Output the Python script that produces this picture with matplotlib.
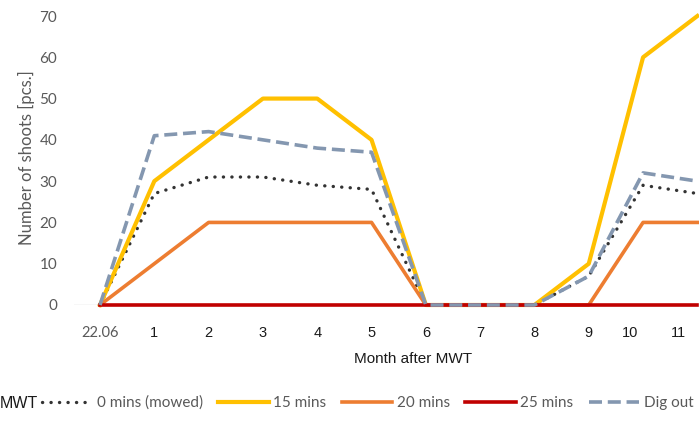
"""Shoot counts per month after MWT — line chart"""

import matplotlib
matplotlib.use("Agg")
import matplotlib.pyplot as plt

# ── Data ────────────────────────────────────────────────────────────────────

months = ["22.06", "1", "2", "3", "4", "5", "6", "7", "8", "9", "10", "11"]
# where the tick labels sit (the last two labels are drawn a bit left)
label_pos = [0, 1, 2, 3, 4, 5, 6, 7, 8, 9, 9.76, 10.66]

mowed_0 = [0, 27, 31, 31, 29, 28, 0, 0, 0, 7, 29, 27]
mins_15 = [0, 30, 40, 50, 50, 40, 0, 0, 0, 10, 60, 70]
mins_20 = [0, 10, 20, 20, 20, 20, 0, 0, 0, 0, 20, 20]
mins_25 = [0, 0, 0, 0, 0, 0, 0, 0, 0, 0, 0, 0]
dig_out = [0, 41, 42, 40, 38, 37, 0, 0, 0, 7, 32, 30]

y_ticks = [0, 10, 20, 30, 40, 50, 60, 70]

GRAY_TXT = "#595959"

# ── Figure ──────────────────────────────────────────────────────────────────

fig = plt.figure(figsize=(6.99, 4.22), dpi=100)
ax = fig.add_axes([74 / 699, 117 / 422, 625 / 699, 289 / 422])

x = list(range(len(months)))

ax.plot(x, mowed_0, color="#333333", linewidth=2.4,
        linestyle=(0, (0.05, 2.5)), dash_capstyle="round",
        label="0 mins (mowed)", clip_on=False, zorder=2)
ax.plot(x, mins_15, color="#FFC000", linewidth=3.0,
        solid_joinstyle="round", label="15 mins", clip_on=False, zorder=3)
ax.plot(x, mins_20, color="#ED7D31", linewidth=2.6,
        solid_joinstyle="round", label="20 mins", clip_on=False, zorder=4)
ax.plot(x, mins_25, color="#C00000", linewidth=2.6,
        solid_joinstyle="round", label="25 mins", clip_on=False, zorder=5)
ax.plot(x, dig_out, color="#8497B0", linewidth=2.6,
        linestyle=(0, (3.6, 1.6)), solid_joinstyle="round",
        label="Dig out", clip_on=False, zorder=6)

ax.set_xlim(-0.479, 11.03)
ax.set_ylim(0, 70)

for s in ax.spines.values():
    s.set_visible(False)
ax.axhline(0, color="#D9D9D9", linewidth=1.0, zorder=1)

ax.set_yticks(y_ticks)
ax.set_yticklabels([str(v) for v in y_ticks], fontfamily="Lato",
                   fontsize=11, color=GRAY_TXT)
ax.tick_params(axis="y", length=0, pad=12)

ax.set_xticks(label_pos)
ax.set_xticklabels(months, fontfamily="Liberation Sans", fontsize=10.5,
                   color="#1a1a1a")
ax.tick_params(axis="x", length=0, pad=15)
first = ax.get_xticklabels()[0]
first.set_fontfamily("Lato")
first.set_color(GRAY_TXT)
first.set_fontsize(10.5)

ax.set_ylabel("Number of shoots [pcs.]", fontfamily="Lato", fontsize=12,
              color=GRAY_TXT)
ax.yaxis.set_label_coords(-0.062, 0.51)

fig.text(413 / 699, 1 - 359 / 422, "Month after MWT",
         fontfamily="Liberation Sans", fontsize=11, color="#1a1a1a",
         ha="center", va="center")

# legend with the "MWT" caption to its left
fig.text(0.0, 1 - 403 / 422, "MWT", fontfamily="Liberation Sans",
         fontsize=11.5, color="#1a1a1a", ha="left", va="center")
leg = fig.legend(loc="center left", bbox_to_anchor=(42 / 699, 1 - 403 / 422),
                 ncol=5, frameon=False, handlelength=3.3, handletextpad=0.3,
                 columnspacing=1.0, borderpad=0, borderaxespad=0,
                 prop={"family": "Lato", "size": 11})
for t in leg.get_texts():
    t.set_color(GRAY_TXT)

fig.savefig("out.png", dpi=100)
